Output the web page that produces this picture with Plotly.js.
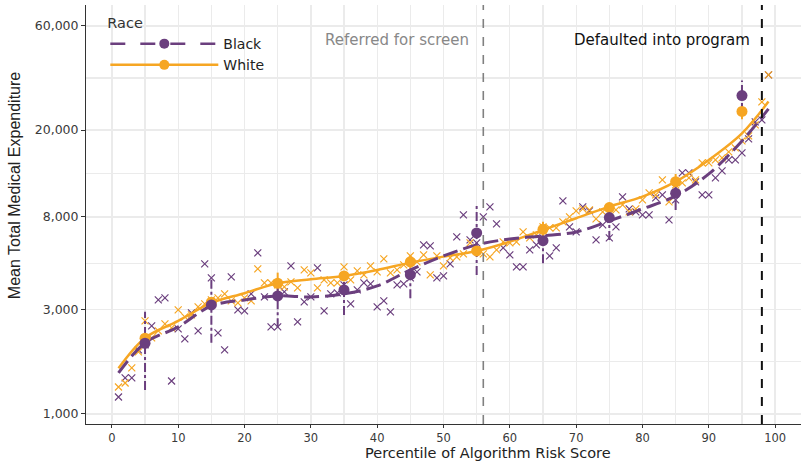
<!DOCTYPE html>
<html>
<head>
<meta charset="utf-8">
<script src="https://cdn.plot.ly/plotly-3.0.1.min.js"></script>
<style>html,body{margin:0;padding:0;background:#fff;}#chart{width:806px;height:463px;}</style>
</head>
<body>
<div id="chart"></div>
<script>
// Percentiles of algorithm risk score
const pct = [1,2,3,4,5,6,7,8,9,10,11,12,13,14,15,16,17,18,19,20,21,22,23,24,25,26,27,28,29,30,31,32,33,34,35,36,37,38,39,40,41,42,43,44,45,46,47,48,49,50,51,52,53,54,55,56,57,58,59,60,61,62,63,64,65,66,67,68,69,70,71,72,73,74,75,76,77,78,79,80,81,82,83,84,85,86,87,88,89,90,91,92,93,94,95,96,97,98,99];

// Mean total medical expenditure per percentile (x markers)
const blackPct = [1196,1463,1463,1965,2072,2532,3331,3402,1416,2453,2207,2904,2402,4870,4201,2351,1965,4245,2997,2966,3549,5470,3438,2505,2505,3624,4768,2641,3262,3438,4668,2966,3549,3587,3902,3193,3701,3985,3943,3094,3296,2934,3902,3943,4201,4476,5951,5888,4201,4290,4870,6475,8167,6273,6077,7997,8887,7427,5765,5355,4718,4718,5645,5951,6407,5299,5765,9468,7196,6826,8887,8520,6273,7349,6407,7196,9876,8701,8430,8167,8167,9772,10085,7747,9568,12720,12720,11569,10085,10085,12067,12992,14591,14591,15709,18211,21786,22250,35780];
const whitePct = [1329,1387,1625,1924,2669,2231,2402,2586,2479,2997,2784,2843,3094,3193,3331,3402,3549,3296,3227,3402,3296,4620,3985,3985,3902,3820,4027,3780,4571,4428,3780,4113,3985,3985,4718,4113,4523,4336,4768,4476,5134,4428,4571,4819,5299,4974,5355,4336,5299,4768,5188,5244,5412,6077,5645,5412,5244,5645,6142,6077,6142,6826,6407,6613,7196,7120,7120,7585,7997,8520,8701,8610,7829,8430,8793,8610,9076,8430,8701,9568,10300,10085,11815,9368,11208,11446,12067,11815,14136,14136,14591,14902,15877,16560,17831,18797,21106,26907,35780];

// Decile means with intervals
const decile = [5,15,25,35,45,55,65,75,85,95];
const blackMean = [2109,3158,3473,3700,4348,6753,6224,7943,10270,28760];
const blackLo   = [1288,2122,2496,2843,3390,4335,4905,6273,8610,24200];
const blackHi   = [2943,4188,3902,4111,4668,9240,7350,9076,11815,33700];
const whiteMean = [2223,3250,3972,4290,4980,5585,7020,8822,11600,24330];
const whiteLo   = [2090,3080,3573,4100,4571,5300,6540,8350,10830,22410];
const whiteHi   = [2360,3430,4443,4490,5355,5900,7600,9300,12580,26340];

// Smoothed fits
const fitPct = [1,5,10,15,20,25,30,35,40,45,50,55,60,65,70,75,80,85,90,95,99];
const blackFit = [1541,2116,2505,3126,3331,3475,3438,3549,3861,4571,5299,5951,6340,6544,6826,7666,8701,9980,12588,17831,24992];
const whiteFit = [1620,2231,2669,3227,3575,3972,4143,4290,4571,4937,5260,5586,6162,6971,7886,8915,9907,11606,14591,19316,26994];

// Thresholds
const referredCut = 56;
const defaultCut = 98;

// Axis ticks
const xTicks = [0,10,20,30,40,50,60,70,80,90,100];
const yTicks = [1000,3000,8000,20000,60000];
const yTickText = ['1,000','3,000','8,000','20,000','60,000'];
const yMinor = [1732,4899,12649,34641];

const PURPLE = '#6b3f7e';
const ORANGE = '#f6a623';
const FONT = 'DejaVu Sans, sans-serif';

function segs(xs, lo, hi){
  const x=[], y=[];
  xs.forEach((v,i)=>{ x.push(v,v,null); y.push(lo[i],hi[i],null); });
  return {x, y};
}
const bErr = segs(decile, blackLo, blackHi);
const wErr = segs(decile, whiteLo, whiteHi);

const traces = [
  // legend entries
  {x:[null], y:[null], type:'scatter', mode:'lines+markers', name:'Black',
   line:{color:PURPLE, width:2.5, dash:'longdash'}, marker:{color:PURPLE, size:10}},
  {x:[null], y:[null], type:'scatter', mode:'lines+markers', name:'White',
   line:{color:ORANGE, width:2.5}, marker:{color:ORANGE, size:10}},
  // percentile markers
  {x:pct, y:blackPct, type:'scatter', mode:'markers', showlegend:false,
   marker:{symbol:'x-thin', size:7, line:{color:PURPLE, width:1.2}}},
  {x:pct, y:whitePct, type:'scatter', mode:'markers', showlegend:false,
   marker:{symbol:'x-thin', size:7, line:{color:ORANGE, width:1.2}}},
  // error bars
  {x:wErr.x, y:wErr.y, type:'scatter', mode:'lines', showlegend:false, connectgaps:false,
   line:{color:ORANGE, width:2}},
  {x:bErr.x, y:bErr.y, type:'scatter', mode:'lines', showlegend:false, connectgaps:false,
   line:{color:PURPLE, width:2, dash:'dashdot'}},
  // fits
  {x:fitPct, y:whiteFit, type:'scatter', mode:'lines', showlegend:false,
   line:{color:ORANGE, width:2.5, shape:'spline', smoothing:1}},
  {x:fitPct, y:blackFit, type:'scatter', mode:'lines', showlegend:false,
   line:{color:PURPLE, width:3, shape:'spline', smoothing:1, dash:'15px,6px'}},
  // decile means
  {x:decile, y:whiteMean, type:'scatter', mode:'markers', showlegend:false,
   marker:{color:ORANGE, size:11}},
  {x:decile, y:blackMean, type:'scatter', mode:'markers', showlegend:false,
   marker:{color:PURPLE, size:11}}
];

const layout = {
  width:806, height:463,
  margin:{l:86, r:5, t:5, b:39},
  paper_bgcolor:'#fff', plot_bgcolor:'#fff',
  font:{family:FONT, color:'#333'},
  showlegend:true,
  legend:{x:0.027, y:0.99, xanchor:'left', yanchor:'top', bgcolor:'rgba(0,0,0,0)',
    title:{text:'Race', font:{family:FONT, size:14.5, color:'#333'}},
    font:{family:FONT, size:14, color:'#222'}, itemwidth:108, tracegroupgap:0},
  xaxis:{range:[-3.9,103.9], tickmode:'array', tickvals:xTicks, ticktext:xTicks.map(String),
    showline:true, linecolor:'#333', linewidth:1, ticks:'outside', ticklen:3, tickcolor:'#333',
    showgrid:true, gridcolor:'#ebebeb', gridwidth:1.3, zeroline:false,
    tickfont:{family:FONT, size:11.5, color:'#3a3a3a'},
    minor:{tickmode:'linear', tick0:5, dtick:10, showgrid:true, gridcolor:'#ebebeb', gridwidth:1.1, ticks:''}},
  yaxis:{type:'log', range:[2.954,4.874], tickmode:'array', tickvals:yTicks, ticktext:yTickText,
    showline:true, linecolor:'#333', linewidth:1, ticks:'outside', ticklen:4, tickcolor:'#333',
    showgrid:true, gridcolor:'#ebebeb', gridwidth:1.3, zeroline:false,
    tickfont:{family:FONT, size:12.5, color:'#3a3a3a'},
    minor:{tickmode:'array', tickvals:yMinor, showgrid:true, gridcolor:'#ebebeb', gridwidth:1.1, ticks:''}},
  shapes:[
    {type:'line', xref:'x', yref:'paper', x0:referredCut, x1:referredCut, y0:0, y1:1,
     line:{color:'#808080', width:1.6, dash:'dash'}},
    {type:'line', xref:'x', yref:'paper', x0:defaultCut, x1:defaultCut, y0:0, y1:1,
     line:{color:'#111', width:2, dash:'dash'}}
  ],
  annotations:[
    {text:'Referred for screen', xref:'x', yref:'paper', x:43, y:0.916, yanchor:'middle', xanchor:'center',
     showarrow:false, font:{family:FONT, size:15, color:'#888'}},
    {text:'Defaulted into program', xref:'x', yref:'paper', x:83, y:0.916, yanchor:'middle', xanchor:'center',
     showarrow:false, font:{family:FONT, size:15, color:'#111'}},
    {text:'Percentile of Algorithm Risk Score', xref:'paper', yref:'paper', x:0.562, y:-0.0704,
     xanchor:'center', yanchor:'middle', borderpad:0, showarrow:false, font:{family:FONT, size:14.5, color:'#222'}},
    {text:'Mean Total Medical Expenditure', xref:'paper', yref:'paper', x:-0.1007, y:0.57,
     xanchor:'center', yanchor:'middle', textangle:-90, showarrow:false,
     font:{family:'Liberation Sans, Arial, sans-serif', size:16, color:'#222'}}
  ]
};

Plotly.newPlot('chart', traces, layout, {displayModeBar:false, staticPlot:true});
</script>
</body>
</html>
